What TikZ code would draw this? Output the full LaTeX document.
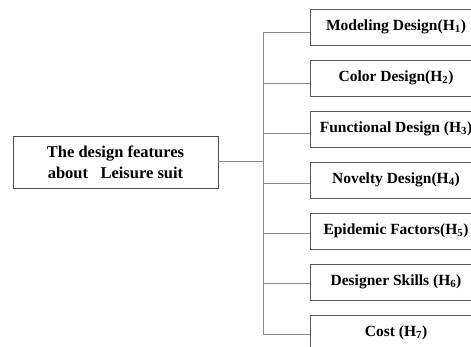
\documentclass[tikz,border=0pt]{standalone}
\usepackage{fontspec}
\setmainfont{Liberation Serif}
\usetikzlibrary{positioning}
\begin{document}
\begin{tikzpicture}[x=1pt,y=-1pt,
feat/.style={draw=black!65,line width=0.9pt,minimum width=172pt,minimum height=36pt,inner sep=0,
	font=\bfseries\fontsize{15.5}{19}\selectfont},
root/.style={draw=black!70,line width=0.9pt,minimum width=205pt,minimum height=52pt,align=center,inner sep=0,
	font=\bfseries\fontsize{16.5}{21}\selectfont},
link/.style={draw=black!45,line width=1pt}]
	\useasboundingbox (0,0) rectangle (471,347);
	\def\bx{263}
	\def\pitch{51}
	\def\lpitch{50.17}
	\node[root] (root) at (115.5,162) {The design features\\about \ \ Leisure suit};
	\foreach \t [count=\i] in {{Modeling Design(H\textsubscript{1})},{Color Design(H\textsubscript{2})},
		{Functional Design (H\textsubscript{3})},{Novelty Design(H\textsubscript{4})},
		{Epidemic Factors(H\textsubscript{5})},{Designer Skills (H\textsubscript{6})},{Cost (H\textsubscript{7})}} {
		\node[feat] (h\i) at (396,{27+(\i-1)*\pitch}) {\t};
		\coordinate (b\i) at (\bx,{33+(\i-1)*\lpitch});
		\draw[link] (b\i) -- (h\i.west |- b\i);
	}
	%bus
	\draw[link] (b1) -- (b7);
	\draw[link] (root.east) -- (root.east -| b1);
\end{tikzpicture}
\end{document}
